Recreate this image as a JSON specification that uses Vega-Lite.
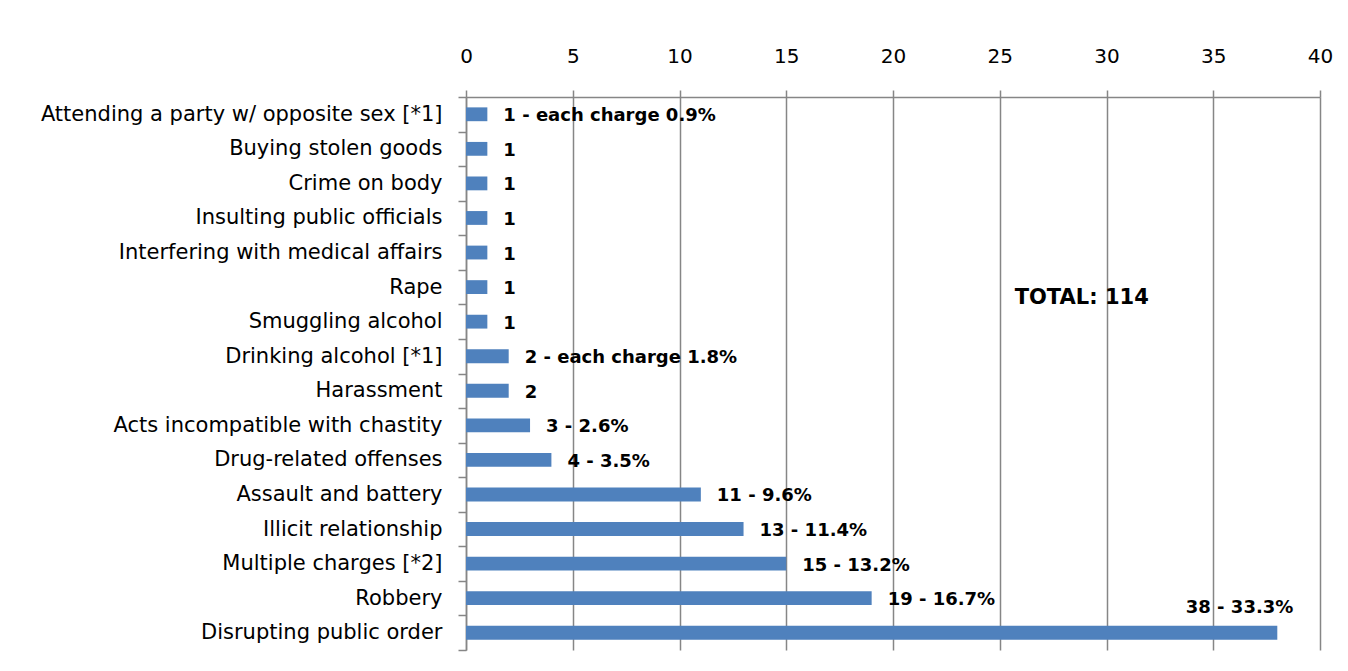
{
  "$schema": "https://vega.github.io/schema/vega-lite/v6.json",
  "autosize": "none",
  "width": 854,
  "height": 553,
  "padding": {"left": 466, "top": 97, "right": 28, "bottom": 21},
  "background": "white",
  "config": {
    "font": "DejaVu Sans",
    "view": {"stroke": null},
    "axis": {"labelFont": "DejaVu Sans", "labelColor": "black", "domainColor": "#868686", "tickColor": "#868686", "domainWidth": 1.5, "tickWidth": 1.5}
  },
  "datasets": {
    "charges": [
      {"charge": "Attending a party w/ opposite sex [*1]", "count": 1, "label": "1 - each charge 0.9%"},
      {"charge": "Buying stolen goods", "count": 1, "label": "1"},
      {"charge": "Crime on body", "count": 1, "label": "1"},
      {"charge": "Insulting public officials", "count": 1, "label": "1"},
      {"charge": "Interfering with medical affairs", "count": 1, "label": "1"},
      {"charge": "Rape", "count": 1, "label": "1"},
      {"charge": "Smuggling alcohol", "count": 1, "label": "1"},
      {"charge": "Drinking alcohol [*1]", "count": 2, "label": "2 - each charge 1.8%"},
      {"charge": "Harassment", "count": 2, "label": "2"},
      {"charge": "Acts incompatible with chastity", "count": 3, "label": "3 - 2.6%"},
      {"charge": "Drug-related offenses", "count": 4, "label": "4 - 3.5%"},
      {"charge": "Assault and battery", "count": 11, "label": "11 - 9.6%"},
      {"charge": "Illicit relationship", "count": 13, "label": "13 - 11.4%"},
      {"charge": "Multiple charges [*2]", "count": 15, "label": "15 - 13.2%"},
      {"charge": "Robbery", "count": 19, "label": "19 - 16.7%"},
      {"charge": "Disrupting public order", "count": 38, "label": "38 - 33.3%"}
    ],
    "total": [
      {"charge": "Rape", "count": 25.7, "label": "TOTAL: 114"}
    ]
  },
  "data": {"name": "charges"},
  "encoding": {
    "y": {
      "field": "charge", "type": "nominal", "sort": null, "title": null,
      "scale": {"paddingInner": 0, "paddingOuter": 0},
      "axis": {"tickBand": "extent", "tickSize": 8, "labelPadding": 16, "labelLimit": 0, "labelFontSize": 21, "grid": false}
    },
    "x": {
      "field": "count", "type": "quantitative", "title": null,
      "scale": {"domain": [0, 40], "nice": false},
      "axis": {"orient": "top", "values": [0, 5, 10, 15, 20, 25, 30, 35, 40], "tickSize": 7, "labelPadding": 24, "labelFontSize": 20, "grid": true, "gridColor": "#868686", "gridWidth": 1.5, "labelFlush": false}
    }
  },
  "layer": [
    {"mark": {"type": "bar", "color": "#4F81BD", "height": {"band": 0.4}}},
    {
      "transform": [{"filter": "datum.count < 38"}],
      "mark": {"type": "text", "align": "left", "baseline": "middle", "dx": 16, "dy": 2, "fontWeight": "bold", "fontSize": 18, "color": "black"},
      "encoding": {"text": {"field": "label"}}
    },
    {
      "transform": [{"filter": "datum.count == 38"}],
      "mark": {"type": "text", "align": "right", "baseline": "middle", "dx": 16, "dy": -25, "fontWeight": "bold", "fontSize": 18, "color": "black"},
      "encoding": {"text": {"field": "label"}}
    },
    {
      "data": {"name": "total"},
      "mark": {"type": "text", "align": "left", "baseline": "middle", "dy": 11, "fontWeight": "bold", "fontSize": 21, "color": "black"},
      "encoding": {"text": {"field": "label"}}
    }
  ]
}
